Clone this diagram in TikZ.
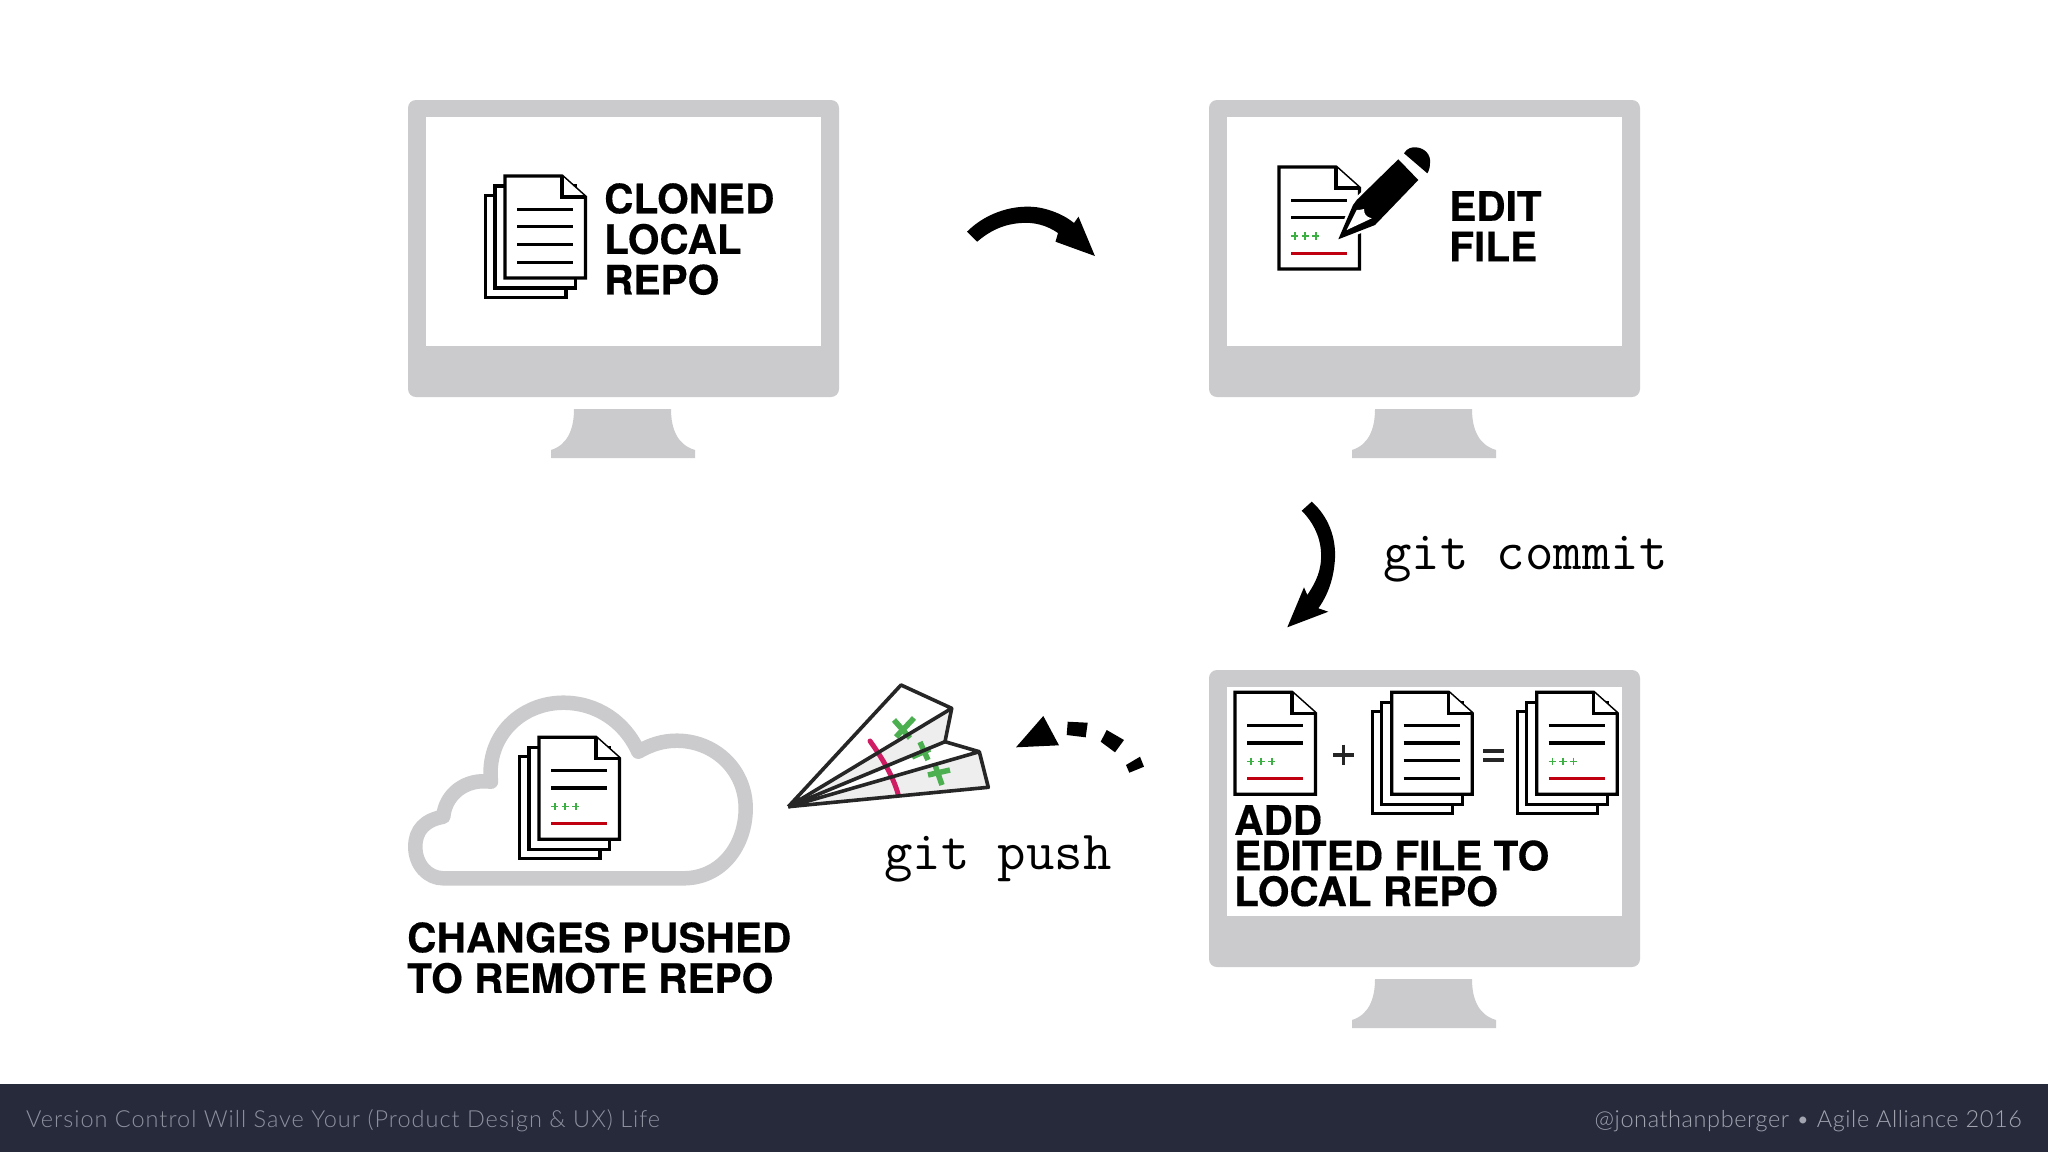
\documentclass[tikz,border=0pt]{standalone}
\usepackage{fontspec}
\setsansfont[BoldFeatures={FakeBold=0.35}]{TeX Gyre Heros}
\newfontfamily\footfont{Lato Light}
\definecolor{screengray}{HTML}{CBCBCD}
\definecolor{footdark}{HTML}{262A3B}
\definecolor{footgray}{HTML}{8E909E}
\definecolor{footlight}{HTML}{A2A4B0}
\definecolor{pluslight}{HTML}{3CB043}
\definecolor{diffred}{HTML}{C00010}
\definecolor{crossgreen}{HTML}{4CAF50}
\definecolor{foldpink}{HTML}{D01C64}
\definecolor{planegray}{HTML}{EEEEEE}
\tikzset{
  sheet/.style={draw=black,line width=3.2pt,fill=white,line join=miter},
  rule/.style={draw=black,line width=3.2pt},
  monitor/.pic={
    \fill[screengray,rounded corners=8pt] (0,0) rectangle (431,297);
    \fill[white] (18,17) rectangle (413,245.5);
    \fill[screengray] (166,309) -- (263,309) .. controls (263,330) and (270,345) .. (287,350) -- (287,358) -- (143,358) -- (143,350) .. controls (159,345) and (166,330) .. (166,309) -- cycle;
  },
  stackback/.pic={
    \draw[sheet] (-19.5,19.5) rectangle (61,121.5);
    \draw[sheet] (-10,10) rectangle (70.5,112);
  },
  pagebase/.pic={
    \draw[sheet] (0,0) -- (57,0) -- (80.5,21) -- (80.5,102) -- (0,102) -- cycle;
    \draw[sheet] (57,0) -- (57,21) -- (80.5,21);
    \draw[rule] (12,33.3) -- (68,33.3);
    \draw[rule] (12,50.7) -- (68,50.7);
  },
  pagefour/.pic={
    \pic at (0,0) {pagebase};
    \draw[rule] (12,68.5) -- (68,68.5);
    \draw[rule] (12,86.3) -- (68,86.3);
  },
  pagediff/.pic={
    \pic at (0,0) {pagebase};
    \foreach \px in {15.7,26.2,36.7}
      \draw[pluslight,line width=1.6pt] (\px-3.7,69) -- (\px+3.7,69) (\px,65.3) -- (\px,72.7);
    \draw[diffred,line width=3.4pt] (12,86.3) -- (68,86.3);
  },
}
\begin{document}
\begin{tikzpicture}
[x=1pt,y=-1pt,
bigword/.style = {font=\sffamily\bfseries\fontsize{40.6}{40.6}\selectfont, anchor=north west, inner sep=0pt, align=left},
cmd/.style = {font=\ttfamily\fontsize{55.2}{55.2}\selectfont, anchor=base west, inner sep=0pt},
foot/.style = {inner sep=0pt},
cross/.style = {crossgreen, line width=5.5pt},
wing/.style = {draw=black!85, line width=3.6pt, line join=round},
]

\useasboundingbox (0,0) rectangle (2048,1152);
\fill[white] (0,0) rectangle (2048,1152);

\pic at (408,100) {monitor};
\pic at (1209,100) {monitor};
\pic at (1209,670) {monitor};

% cloned repo
\pic at (505,176) {stackback};
\pic at (505,176) {pagefour};
\node (cloned) at (604,183)[bigword] {CLONED\\LOCAL\\REPO};

% edit file
\pic at (1279,167) {pagediff};
\node (edit) at (1449,191)[bigword] {EDIT\\FILE};
\fill[black,preaction={draw=white,line width=5pt,line join=round}] (1353,205) -- (1356.7,200) -- (1398.3,159.3) -- (1418.3,180) -- (1375,225) -- (1338.3,239.3) -- cycle;
\fill[white] (1356.7,210) -- (1346.7,230) -- (1371.7,218.3) .. controls (1366,217) and (1364,214) .. (1364,209) .. controls (1361,210) and (1358,210) .. (1356.7,210) -- cycle;
\fill[black] (1404,153.3) .. controls (1407,148) and (1412,147) .. (1416,147.3) .. controls (1425,148) and (1431,155) .. (1430,163) .. controls (1430,167) and (1429,171) .. (1427.3,173.3) -- cycle;

% first arrow
\fill[black] (967,231.7) .. controls (986.5,212) and (1016.5,203) .. (1041.5,208) .. controls (1054.5,211) and (1065.5,216) .. (1074,223) -- (1078.5,216.7) -- (1094.9,256) -- (1055.5,241.7) -- (1058,233) .. controls (1046.5,225) and (1033.5,222) .. (1021.5,223) .. controls (1003.5,224) and (989.5,231) .. (977.2,241.7) -- cycle;

% commit arrow
\fill[black] (1311.7,501.7) .. controls (1328,516) and (1336,537) .. (1335,558) .. controls (1334,578) and (1328,595) .. (1318.3,608.3) -- (1328.3,611.7) -- (1287.3,627.3) -- (1304,587.3) -- (1307.3,595) .. controls (1316,582) and (1322,570) .. (1321,552) .. controls (1320,535) and (1312,521) .. (1301.7,510.7) -- cycle;
\node (commit) at (1383,569)[cmd] {git commit};

% add to repo
\pic at (1235,692.3) {pagediff};
\draw[black!85,line width=3.5pt] (1333,755) -- (1353.6,755) (1343.3,744.7) -- (1343.3,765.3);
\pic at (1391.7,692.3) {stackback};
\pic at (1391.7,692.3) {pagefour};
\draw[black!85,line width=3.6pt] (1483.3,750.7) -- (1504.3,750.7) (1483.3,760) -- (1504.3,760);
\pic at (1536.7,692.3) {stackback};
\pic at (1536.7,692.3) {pagediff};
\node (added) at (1234,805)[bigword] {ADD\\[-5pt]EDITED FILE TO\\[-5pt]LOCAL REPO};

% push arrow
\fill[black] (1043.3,716) -- (1016,747.3) -- (1059,745.3) -- cycle;
\fill[black] (1067.7,721.7) -- (1087.7,722.7) -- (1085.7,737.3) -- (1066.7,735) -- cycle;
\fill[black] (1106.7,730) -- (1124,740) -- (1115,752.3) -- (1100.7,741.7) -- cycle;
\fill[black] (1126,765) -- (1140,756.7) -- (1144,766.7) -- (1129.3,772.7) -- cycle;
\node (push) at (884,869)[cmd] {git push};

% plane
\coordinate (nose) at (788.3,806.7);
\coordinate (apex) at (901,685);
\coordinate (wingA) at (951.7,708.3);
\coordinate (wingB) at (945,741.7);
\coordinate (wingC) at (979.3,751.7);
\coordinate (wingD) at (988.3,787.3);
\fill[planegray] (nose) -- (wingA) -- (wingB) -- cycle;
\fill[planegray] (nose) -- (wingC) -- (wingD) -- cycle;
\draw[foldpink,line width=5pt,line cap=round] (870,741) .. controls (880,755) and (893,775) .. (898.3,795);
\draw[cross] (894,720) -- (910,738) (914,718) -- (896,737);
\draw[cross] (912,757) -- (930,749) (920,742) -- (928,760);
\draw[cross] (928,775) -- (950,770) (935,765) -- (942,785);
\draw[wing] (nose) -- (apex) -- (wingA) -- (nose);
\draw[wing] (wingA) -- (wingB) -- (nose);
\draw[wing] (wingB) -- (wingC) -- (nose);
\draw[wing] (wingC) -- (wingD) -- (nose);

% cloud
\draw[screengray,line width=14.5pt,line join=round] (443.3,878.3) -- (683.3,878.3) .. controls (722,878.3) and (745.7,845) .. (745.7,808.3) .. controls (745.7,770) and (715,740.7) .. (676.7,740.7) .. controls (662,740.7) and (650,745) .. (638.3,751.7) .. controls (625,722) and (597,702.7) .. (563.3,702.7) .. controls (522,702.7) and (486,735) .. (491,781.7) .. controls (465,778) and (445,795) .. (443.3,816.7) .. controls (425,820) and (415.3,830) .. (415.3,846.7) .. controls (415.3,865) and (428,878.3) .. (443.3,878.3) -- cycle;
\pic at (539,737.3) {stackback};
\pic at (539,737.3) {pagediff};
\node (pushed) at (407,922)[bigword] {CHANGES PUSHED\\TO REMOTE REPO};

% footer
\fill[footdark] (0,1084) rectangle (2048,1152);
\node (talk) at (26,1127)[foot,anchor=base west] {\footfont\addfontfeature{LetterSpace=4.2}\fontsize{23.5}{25}\selectfont\color{footgray}Version Control Will Save Your (Product Design \& UX) Life};
\node (handle) at (2022,1127)[foot,anchor=base east] {\footfont\addfontfeature{LetterSpace=2.5}\fontsize{23.5}{25}\selectfont\color{footlight}@jonathanpberger • Agile Alliance 2016};

\end{tikzpicture}
\end{document}
